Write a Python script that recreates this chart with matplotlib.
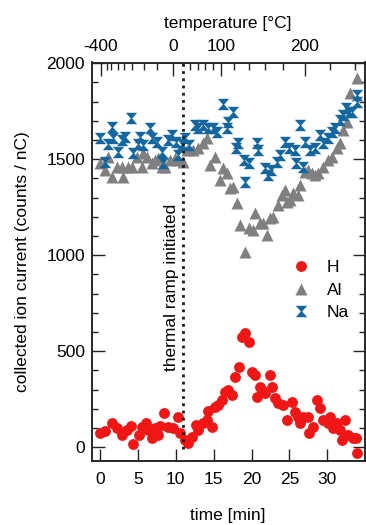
import matplotlib
matplotlib.use("Agg")
import matplotlib.pyplot as plt
from matplotlib.path import Path
from matplotlib.ticker import MultipleLocator, FixedLocator, NullLocator

plt.rcParams['font.family'] = ['Liberation Sans', 'DejaVu Sans']

# ---------------- data ----------------
h_time = [0.0, 0.66, 1.54, 2.2, 2.86, 3.52, 4.05, 4.4, 5.19, 5.5, 6.07, 6.38, 6.82, 7.26,
          7.7, 7.92, 8.44, 9.0, 9.67, 10.33, 10.55, 11.2, 11.65, 12.1, 12.66, 12.97, 13.63,
          14.07, 14.29, 14.73, 15.17, 15.61, 16.05, 16.49, 16.93, 17.37, 17.81, 18.38, 18.69,
          19.13, 19.7, 20.0, 20.45, 20.67, 21.1, 21.33, 21.77, 22.43, 22.65, 23.09, 23.53,
          24.19, 24.63, 25.29, 25.73, 26.17, 26.39, 26.83, 27.48, 27.61, 28.14, 28.58, 29.02,
          29.46, 30.12, 30.34, 30.78, 31.22, 31.66, 31.88, 32.32, 32.76, 33.42, 33.77, 33.86]
h_vals = [76, 86, 125, 99, 64, 90, 111, 17, 64, 107, 128, 90, 47, 99,
          64, 111, 177, 107, 99, 156, 73, 38, 24, 55, 116, 90, 125,
          142, 191, 107, 208, 220, 246, 290, 298, 272, 368, 420, 576,
          594, 550, 394, 377, 264, 316, 298, 281, 377, 316, 255, 229,
          220, 142, 238, 185, 159, 125, 159, 159, 73, 107, 246, 203,
          142, 125, 159, 99, 125, 90, 38, 142, 64, 47, 47, -28]

al_time = [0.0, 0.66, 1.1, 1.54, 2.2, 2.86, 3.08, 3.74, 4.18, 4.84, 5.5, 5.72, 6.16, 6.82,
           7.26, 7.7, 8.14, 8.58, 9.24, 9.9, 10.33, 10.99, 11.43, 12.31, 12.97, 13.63, 14.07,
           14.51, 15.17, 15.83, 16.27, 16.71, 17.15, 17.59, 18.03, 18.47, 19.13, 19.7, 20.23,
           20.45, 21.11, 21.55, 21.99, 22.43, 22.87, 23.53, 23.97, 24.41, 24.63, 25.07, 25.51,
           26.17, 26.39, 27.05, 27.49, 27.93, 28.37, 28.8, 29.46, 30.12, 30.56, 31.22, 31.66,
           32.1, 32.54, 32.98, 33.86]
al_vals = [1479, 1444, 1513, 1409, 1461, 1461, 1409, 1461, 1461, 1513, 1461, 1531, 1513, 1479,
           1496, 1505, 1461, 1461, 1496, 1505, 1496, 1488, 1548, 1548, 1557, 1583, 1609,
           1470, 1513, 1392, 1453, 1427, 1349, 1357, 1271, 1158, 1019, 1140, 1132,
           1218, 1166, 1166, 1106, 1192, 1201, 1262, 1314, 1340, 1279, 1288, 1323,
           1314, 1366, 1435, 1444, 1427, 1418, 1427, 1461, 1496, 1513, 1557, 1583,
           1652, 1696, 1843, 1921]

na_time = [0.0, 0.66, 1.0, 1.54, 1.7, 2.42, 2.86, 3.3, 4.05, 4.4, 5.0, 5.28, 5.7, 6.6,
           6.8, 7.48, 8.14, 8.36, 9.0, 9.46, 10.0, 10.33, 10.8, 11.2, 11.7, 12.53, 12.97,
           13.63, 14.29, 14.95, 15.4, 16.2, 16.7, 16.93, 17.59, 18.0, 18.25, 19.0, 19.1,
           19.6, 20.67, 20.9, 21.77, 22.2, 22.6, 23.3, 23.7, 24.4, 25.0, 25.7, 25.9, 26.4,
           26.8, 27.0, 27.7, 28.4, 29.0, 29.4, 30.1, 30.6, 31.0, 31.7, 32.1, 32.5, 32.8,
           33.2, 33.9, 33.9]
na_vals = [1609, 1488, 1580, 1670, 1610, 1540, 1601, 1618, 1717, 1531, 1580, 1618, 1575, 1661,
           1610, 1592, 1540, 1479, 1600, 1627, 1592, 1522, 1580, 1609, 1575, 1679, 1661,
           1679, 1661, 1661, 1640, 1790, 1661, 1696, 1748, 1557, 1583, 1496, 1383,
           1479, 1583, 1548, 1453, 1418, 1444, 1488, 1522, 1592, 1557, 1548, 1479, 1678,
           1461, 1592, 1548, 1557, 1626, 1583, 1609, 1644, 1661, 1704, 1730, 1765, 1748,
           1748, 1835, 1800]

ramp_time = 10.95
ramp_label = "thermal ramp initiated"

temp_major_labels = ["-400", "0", "100", "200"]
temp_major_pos = [0.13, 9.63, 16.0, 27.04]
temp_minor_pos = [0.92, 1.49, 2.37, 3.17, 4.26, 5.80, 7.56,
                  11.83, 12.93, 13.81, 14.91,
                  17.68, 19.70, 21.77, 24.18,
                  30.34, 33.64]

series_labels = ["H", "Al", "Na"]
colors = ["#F01616", "#808080", "#13679E"]

# ---------------- figure ----------------
fig = plt.figure(figsize=(3.66, 5.25), dpi=100)
ax = fig.add_axes([92/366, 1 - 460.5/525, (364.5 - 92)/366, (460.5 - 62.5)/525])

hourglass = Path([(-1, 1), (1, 1), (0.12, 0), (1, -1), (-1, -1), (-0.12, 0), (-1, 1)],
                 [Path.MOVETO, Path.LINETO, Path.LINETO, Path.LINETO, Path.LINETO,
                  Path.LINETO, Path.CLOSEPOLY])

ax.plot(h_time, h_vals, 'o', ms=7.8, color=colors[0], mec='none', label=series_labels[0])
ax.plot(al_time, al_vals, '^', ms=8.8, color=colors[1], mec='none', label=series_labels[1])
ax.plot(na_time, na_vals, linestyle='none', marker=hourglass, ms=8.2, color=colors[2],
        mec='none', label=series_labels[2])

ax.vlines(ramp_time, -10, 2004, colors='#1a1a1a', linestyles=(0, (1, 1.6)), linewidth=2.0)
ax.text(ramp_time - 0.5, 835, ramp_label, rotation=90, ha='right', va='center',
        fontsize=12.5, color='black')

ax.set_xlim(-1.05, 34.9)
ax.set_ylim(-69, 2004)
ax.xaxis.set_major_locator(FixedLocator([0, 5, 10, 15, 20, 25, 30]))
ax.xaxis.set_minor_locator(NullLocator())
ax.yaxis.set_major_locator(MultipleLocator(500))
ax.yaxis.set_minor_locator(MultipleLocator(100))

ax.tick_params(axis='both', which='both', direction='in', labelsize=12.5, width=1.0,
               color='#222222')
ax.tick_params(axis='x', which='major', length=9, pad=8.5, top=False)
ax.tick_params(axis='y', which='major', length=9, pad=5, right=True)
ax.tick_params(axis='y', which='minor', length=4.5, right=True)
for s in ax.spines.values():
    s.set_linewidth(1.1)
    s.set_color('#222222')

ax.set_xlabel("time [min]", fontsize=12.5, labelpad=15)
ax.set_ylabel("collected ion current (counts / nC)", fontsize=12.5, labelpad=12)

ax2 = ax.twiny()
ax2.set_xlim(ax.get_xlim())
ax2.xaxis.set_major_locator(FixedLocator(temp_major_pos))
ax2.set_xticklabels(temp_major_labels)
ax2.xaxis.set_minor_locator(FixedLocator(temp_minor_pos))
ax2.tick_params(axis='x', which='both', direction='in', labelsize=12.5, width=1.0,
                color='#222222')
ax2.tick_params(axis='x', which='major', length=9, pad=6)
ax2.tick_params(axis='x', which='minor', length=5)
ax2.set_xlabel("temperature [°C]", fontsize=12.5, labelpad=8)
for s in ax2.spines.values():
    s.set_linewidth(1.1)
    s.set_color('#222222')

ax.legend(loc='upper left', bbox_to_anchor=(0.735, 0.503), frameon=False,
          handlelength=1.0, handletextpad=1.0, labelspacing=0.42, borderpad=0,
          borderaxespad=0, fontsize=12.5)

fig.savefig("out.png", dpi=100)
